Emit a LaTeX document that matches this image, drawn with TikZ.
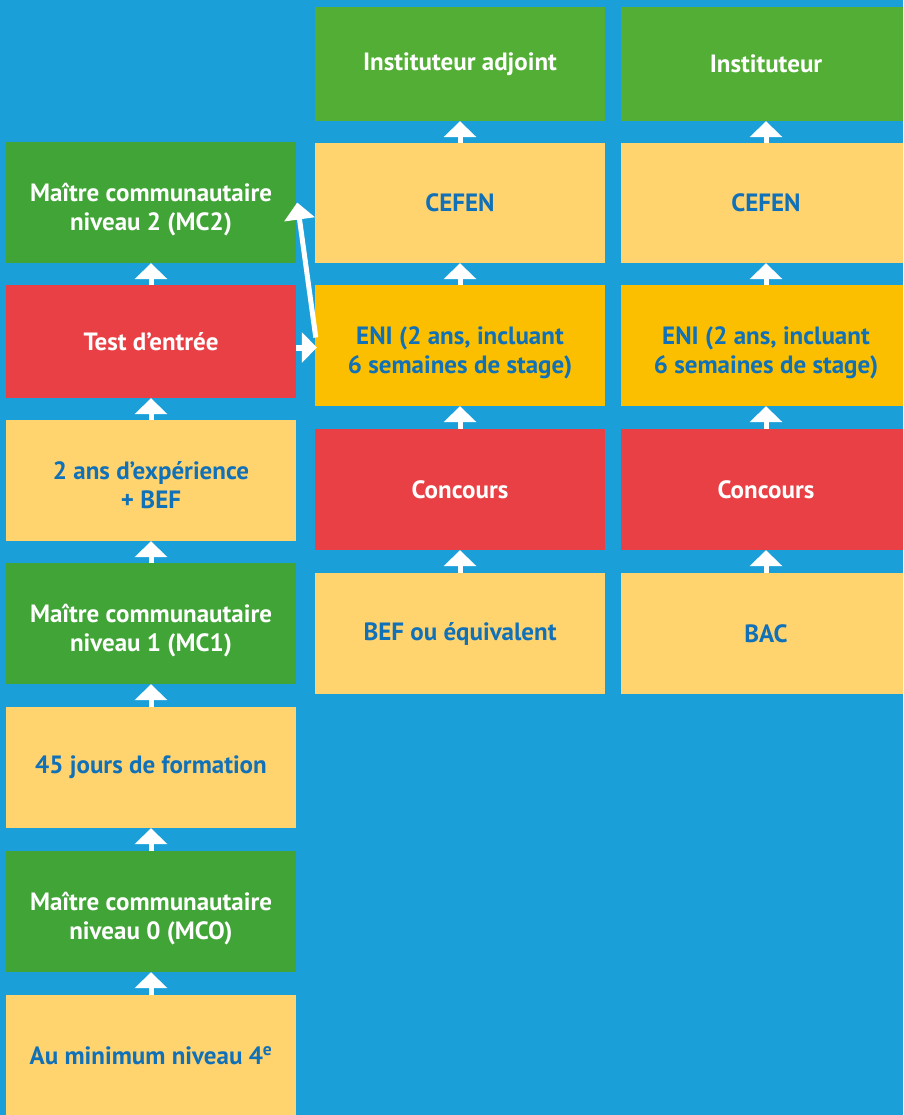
\documentclass[tikz,border=0pt]{standalone}
\usepackage{fontspec}
\setmainfont{PT Sans}
\usepackage{tikz}
\usetikzlibrary{arrows.meta}
\usetikzlibrary{calc}

\definecolor{sky}{HTML}{1A9FD9}
\definecolor{leaf}{HTML}{41A437}
\definecolor{lime}{HTML}{52AE34}
\definecolor{cream}{HTML}{FFD36E}
\definecolor{amber}{HTML}{FBBF00}
\definecolor{brick}{HTML}{E84044}
\definecolor{ink}{HTML}{1070B8}

\begin{document}
\begin{tikzpicture}
	[x=1pt,y=-1pt,
	stage/.style={rectangle,minimum width=290pt,minimum height=121pt,inner sep=0pt,align=center,font=\fontsize{25}{29}\selectfont\bfseries},
	pair/.style={text height=56pt,text depth=0pt},
	grade/.style={stage,fill=leaf,text=white},
	exam/.style={stage,fill=brick,text=white},
	need/.style={stage,fill=cream,text=ink},
	school/.style={stage,fill=amber,text=ink},
	link/.style={draw=white,line width=5pt,-{Triangle[width=32pt,length=16pt]}}]

	% Background
	\clip (0,0) rectangle (903,1115);
	\fill[sky] (0,0) rectangle (903,1115);

	% Left column: community teacher track
	\draw node at (151,202.5) [grade,pair](mcB){Maître communautaire\\niveau 2 (MC2)}
		node at (151,341.5) [exam,minimum height=113pt](test){Test d’entrée}
		node at (151,480.5) [need,pair](exp){2 ans d’expérience\\+ BEF}
		node at (151,623.5) [grade,pair](mcA){Maître communautaire\\niveau 1 (MC1)}
		node at (151,767.5) [need](train){45 jours de formation}
		node at (151,911.5) [grade,pair](mcO){Maître communautaire\\niveau 0 (MCO)}
		node at (151,1055.5) [need](min){Au minimum niveau 4\textsuperscript{e}};

	% Middle column: assistant teacher track
	\draw node at (460,64) [grade,fill=lime,minimum height=114pt](instA){Instituteur adjoint}
		node at (460,203) [need,minimum height=120pt](cefA){CEFEN}
		node at (460,345.5) [school,pair](eniA){ENI (2 ans, incluant\\6 semaines de stage)}
		node at (460,489.5) [exam](conA){Concours}
		node at (460,633.5) [need](bef){BEF ou équivalent};

	% Right column: teacher track
	\draw node at (766,64) [grade,fill=lime,minimum height=114pt](instB){Instituteur}
		node at (766,203) [need,minimum height=120pt](cefB){CEFEN}
		node at (766,345.5) [school,pair](eniB){ENI (2 ans, incluant\\6 semaines de stage)}
		node at (766,489.5) [exam](conB){Concours}
		node at (766,633.5) [need](bac){BAC};

	% Draw the links between the steps
	\draw[link] (min.north) -- (mcO.south);
	\draw[link] (mcO.north) -- (train.south);
	\draw[link] (train.north) -- (mcA.south);
	\draw[link] (mcA.north) -- (exp.south);
	\draw[link] (exp.north) -- (test.south);
	\draw[link] (test.north) -- (mcB.south);

	\draw[link] (bef.north) -- (conA.south);
	\draw[link] (conA.north) -- (eniA.south);
	\draw[link] (eniA.north) -- (cefA.south);
	\draw[link] (cefA.north) -- (instA.south);

	\draw[link] (bac.north) -- (conB.south);
	\draw[link] (conB.north) -- (eniB.south);
	\draw[link] (eniB.north) -- (cefB.south);
	\draw[link] (cefB.north) -- (instB.south);

	% Crossings between the tracks
	\draw[link,line width=6pt,-{Triangle[width=30pt,length=15pt]}] ([yshift=-2pt]test.east |- eniA.west) -- ([xshift=2pt,yshift=-2pt]eniA.west);
	\draw[link,-{Triangle[width=30pt,length=17pt]}] ([xshift=1pt,yshift=8pt]eniA.west) -- ([xshift=1pt]mcB.east);
\end{tikzpicture}
\end{document}
